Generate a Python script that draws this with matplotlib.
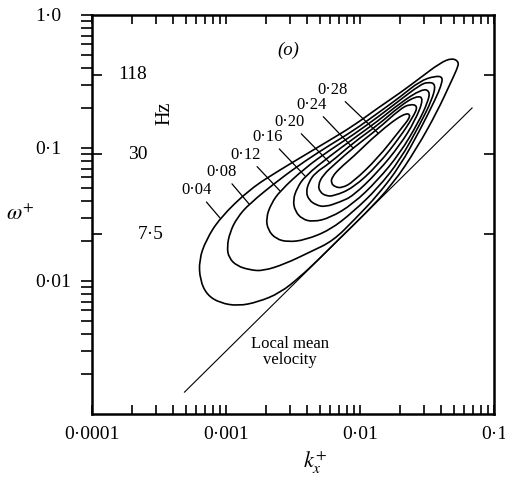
import numpy as np
import matplotlib.pyplot as plt
from matplotlib.path import Path
from matplotlib.patches import PathPatch
from matplotlib.ticker import FixedLocator, FixedFormatter, LogLocator, NullLocator, NullFormatter
from matplotlib.transforms import blended_transform_factory

plt.rcParams['font.family'] = ['Liberation Serif', 'DejaVu Serif']
plt.rcParams['mathtext.fontset'] = 'stix'

# contour levels and their traced outlines (log10 k_x+, log10 omega+)
levels = ['0·04', '0·08', '0·12', '0·16', '0·20', '0·24', '0·28']

c04_logk = [-1.261, -1.313, -1.403, -1.552, -1.701, -1.866, -2.052, -2.224, -2.448, -2.597,
            -2.821, -3.045, -3.149, -3.201, -3.194, -3.142, -3.045, -2.910, -2.761, -2.597,
            -2.448, -2.313, -2.149, -1.963, -1.754, -1.575, -1.425, -1.321, -1.276]
c04_logw = [-0.353, -0.323, -0.361, -0.474, -0.586, -0.699, -0.835, -0.940, -1.075, -1.165,
            -1.308, -1.526, -1.692, -1.842, -1.992, -2.105, -2.165, -2.188, -2.158, -2.090,
            -1.970, -1.842, -1.677, -1.496, -1.271, -1.000, -0.729, -0.504, -0.406]

c08_logk = [-1.381, -1.440, -1.552, -1.701, -1.866, -2.052, -2.224, -2.410, -2.597, -2.828,
            -2.918, -2.970, -2.993, -2.978, -2.918, -2.821, -2.724, -2.560, -2.373, -2.201,
            -2.037, -1.866, -1.701, -1.552, -1.433, -1.396]
c08_logw = [-0.466, -0.459, -0.496, -0.617, -0.737, -0.872, -0.977, -1.098, -1.233, -1.421,
            -1.526, -1.632, -1.744, -1.827, -1.887, -1.917, -1.925, -1.872, -1.782, -1.699,
            -1.534, -1.353, -1.135, -0.865, -0.624, -0.534]

c12_logk = [-1.433, -1.493, -1.552, -1.701, -1.866, -2.052, -2.224, -2.410, -2.597, -2.664,
            -2.701, -2.687, -2.627, -2.537, -2.410, -2.224, -2.052, -1.866, -1.701, -1.552, -1.463]
c12_logw = [-0.519, -0.504, -0.526, -0.639, -0.767, -0.902, -1.015, -1.150, -1.323, -1.421,
            -1.526, -1.617, -1.684, -1.707, -1.692, -1.617, -1.481, -1.301, -1.090, -0.820, -0.639]

c16_logk = [-1.478, -1.537, -1.701, -1.866, -2.052, -2.224, -2.410, -2.470, -2.500, -2.485,
            -2.433, -2.351, -2.224, -2.052, -1.866, -1.701, -1.567, -1.493]
c16_logw = [-0.571, -0.556, -0.662, -0.797, -0.932, -1.060, -1.211, -1.301, -1.391, -1.474,
            -1.534, -1.556, -1.526, -1.421, -1.241, -1.038, -0.812, -0.654]

c20_logk = [-1.522, -1.582, -1.701, -1.866, -2.052, -2.224, -2.336, -2.381, -2.403, -2.381,
            -2.328, -2.261, -2.149, -2.052, -1.866, -1.701, -1.590]
c20_logw = [-0.624, -0.609, -0.684, -0.827, -0.962, -1.113, -1.188, -1.256, -1.331, -1.391,
            -1.429, -1.444, -1.406, -1.361, -1.180, -0.977, -0.797]

c24_logk = [-1.567, -1.627, -1.701, -1.866, -2.052, -2.187, -2.276, -2.313, -2.299, -2.254,
            -2.194, -2.052, -1.866, -1.701, -1.604]
c24_logw = [-0.684, -0.669, -0.707, -0.857, -1.000, -1.120, -1.203, -1.278, -1.331, -1.361,
            -1.361, -1.301, -1.128, -0.917, -0.767]

c28_logk = [-1.612, -1.672, -1.866, -2.052, -2.149, -2.209, -2.216, -2.187, -2.134, -2.052,
            -1.866, -1.701]
c28_logw = [-0.752, -0.737, -0.887, -1.068, -1.150, -1.218, -1.263, -1.293, -1.301, -1.256,
            -1.075, -0.865]

# point on each contour where its label leader ends
leader_logk = [-3.045, -2.828, -2.597, -2.410, -2.224, -2.052, -1.866]
leader_logw = [-1.526, -1.421, -1.323, -1.211, -1.113, -1.000, -0.887]

# local mean velocity line  omega+ = U+ k_x+
line_k = [4.9e-4, 6.86e-2]
line_w = [1.46e-3, 2.0e-1]

# frequency marks
hz_freqs = [118, 30, 7.5]
hz_labels = ['118', '30', '7·5']
omega_per_hz = 0.003

xtick_vals = [1e-4, 1e-3, 1e-2, 1e-1]
xtick_labels = ['0·0001', '0·001', '0·01', '0·1']
ytick_vals = [1e-2, 1e-1, 1.0]
ytick_labels = ['0·01', '0·1', '1·0']

contours_k = [c04_logk, c08_logk, c12_logk, c16_logk, c20_logk, c24_logk, c28_logk]
contours_w = [c04_logw, c08_logw, c12_logw, c16_logw, c20_logw, c24_logw, c28_logw]


def closed_curve(k, w):
    """Smooth closed outline: quadratic segments through the midpoints of the traced vertices."""
    pts = np.column_stack([k, w])
    mids = 0.5 * (pts + np.roll(pts, -1, axis=0))
    verts = [mids[-1]]
    codes = [Path.MOVETO]
    for p, m in zip(pts, mids):
        verts += [p, m]
        codes += [Path.CURVE3, Path.CURVE3]
    return Path(verts, codes)


fig = plt.figure(figsize=(5.06, 4.83), dpi=100)
ax = fig.add_axes([0.1818, 0.1429, 0.7945, 0.8261])
ax.set_xscale('log')
ax.set_yscale('log')
ax.set_xlim(1e-4, 1e-1)
ax.set_ylim(1e-3, 1.0)

for lk, lw_ in zip(contours_k, contours_w):
    path = closed_curve(np.array(lk), np.array(lw_))
    # build in log space, then map the vertices back to data units
    path = Path(10 ** path.vertices, path.codes)
    ax.add_patch(PathPatch(path, facecolor='none', edgecolor='black', lw=1.2,
                           transform=ax.transData))

ax.plot(line_k, line_w, color='black', lw=0.8)
ax.text(3.0e-3, 2.9e-3, 'Local mean\nvelocity', ha='center', va='center',
        fontsize=12, linespacing=1.0)

# level labels with leader lines
offsets = [(-17, 20), (-19.5, 23), (-24.5, 26), (-26.6, 28), (-29, 29.5), (-29.5, 31), (-32.4, 31)]
for lab, lk, lw_, off in zip(levels, leader_logk, leader_logw, offsets):
    ax.annotate(lab, xy=(10 ** lk, 10 ** lw_), xytext=off, textcoords='offset points',
                ha='center', va='center', fontsize=12,
                arrowprops=dict(arrowstyle='-', lw=0.9, color='black', shrinkA=1, shrinkB=0))

ax.text(0.488, 0.912, '(o)', transform=ax.transAxes, ha='center', va='center',
        fontsize=13.5, style='italic')

# frequency scale inside the left axis
tr = blended_transform_factory(ax.transAxes, ax.transData)
hz_x = [0.102, 0.114, 0.147]
for f, lab, x in zip(hz_freqs, hz_labels, hz_x):
    ax.text(x, f * omega_per_hz, lab, transform=tr, ha='center', va='center', fontsize=14)
ax.text(0.182, 0.754, 'Hz', transform=ax.transAxes, rotation=90, ha='center', va='center',
        fontsize=14.5)

# axis ticks
ax.xaxis.set_major_locator(FixedLocator(xtick_vals))
ax.xaxis.set_major_formatter(FixedFormatter(xtick_labels))
ax.xaxis.set_minor_locator(LogLocator(base=10, subs=np.arange(2, 10), numticks=20))
ax.xaxis.set_minor_formatter(NullFormatter())
ax.yaxis.set_major_locator(FixedLocator(ytick_vals))
ax.yaxis.set_major_formatter(FixedFormatter(ytick_labels))
ax.yaxis.set_minor_locator(LogLocator(base=10, subs=np.arange(2, 10), numticks=20))
ax.yaxis.set_minor_formatter(NullFormatter())

ax.tick_params(axis='x', which='both', direction='in', length=6.5, width=1.2,
               top=True, bottom=True, pad=9, labelsize=14)
ax.tick_params(axis='y', which='both', direction='out', length=8, width=1.2,
               left=True, right=True, pad=33, labelsize=14)
for lab in ax.get_yticklabels():
    lab.set_horizontalalignment('left')

for sp in ax.spines.values():
    sp.set_linewidth(1.8)

ax_hz = ax.twinx()
ax_hz.set_yscale('log')
ax_hz.set_ylim(ax.get_ylim())
ax_hz.yaxis.set_major_locator(FixedLocator([f * omega_per_hz for f in hz_freqs]))
ax_hz.yaxis.set_minor_locator(NullLocator())
ax_hz.tick_params(axis='y', which='major', direction='in', length=7, width=1.2,
                  left=True, right=True, labelleft=False, labelright=False)
for sp in ax_hz.spines.values():
    sp.set_visible(False)

ax.set_ylabel(r'$\omega^{+}$', rotation=0, fontsize=16, va='center', ha='center')
ax.yaxis.set_label_coords(-0.179, 0.499)
ax.set_xlabel(r'$k_x^{+}$', fontsize=16, va='center', ha='center')
ax.xaxis.set_label_coords(0.555, -0.123)

fig.savefig('out.png', dpi=100)
